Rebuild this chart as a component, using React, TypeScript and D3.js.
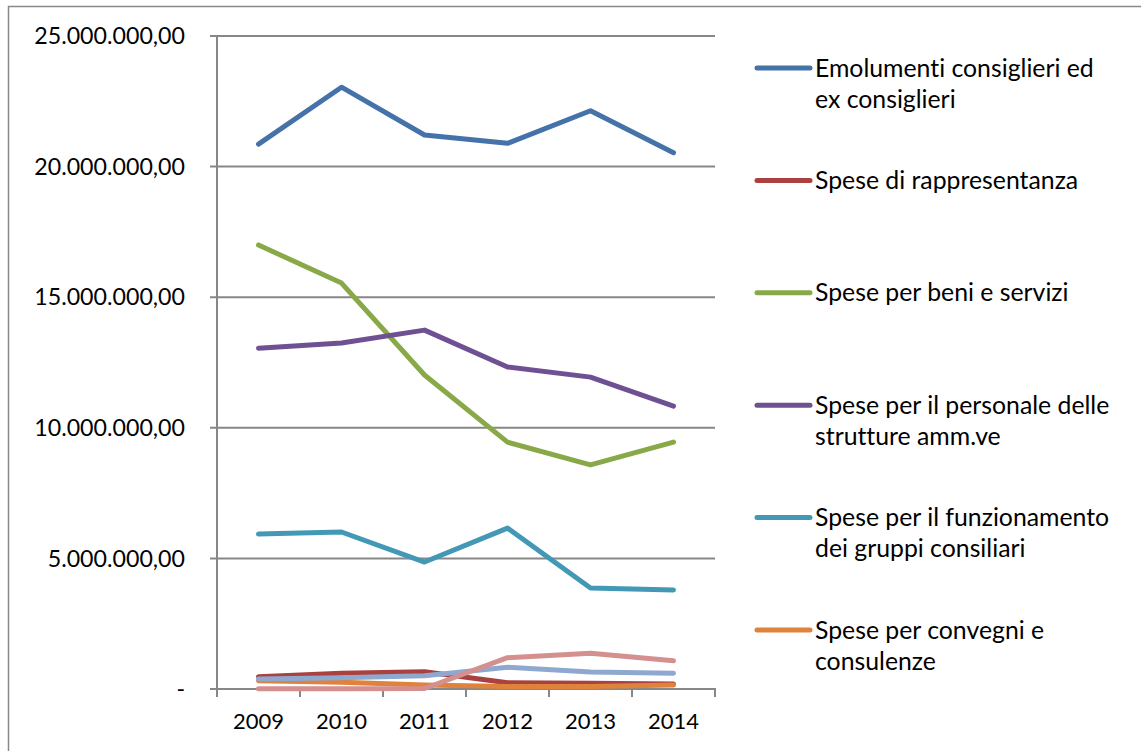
import React, { useEffect, useRef } from "react";
import * as d3 from "d3";

const years = ["2009", "2010", "2011", "2012", "2013", "2014"];

const emolumenti = [20.86, 23.04, 21.21, 20.89, 22.14, 20.53];
const rappresentanza = [0.47, 0.6, 0.66, 0.24, 0.22, 0.19];
const beniServizi = [17.0, 15.54, 12.02, 9.45, 8.58, 9.45];
const personale = [13.05, 13.25, 13.74, 12.33, 11.94, 10.83];
const gruppi = [5.93, 6.01, 4.86, 6.16, 3.87, 3.79];
const convegni = [0.32, 0.26, 0.15, 0.1, 0.1, 0.15];
const serie7 = [0.38, 0.43, 0.51, 0.83, 0.65, 0.6];
const serie8 = [0.01, 0.01, 0.02, 1.2, 1.37, 1.08];

const yTicks = [0, 5, 10, 15, 20, 25];
const yTickLabels = ["-", "5.000.000,00", "10.000.000,00", "15.000.000,00", "20.000.000,00", "25.000.000,00"];

const series = [
  { name: ["Emolumenti consiglieri ed", "ex consiglieri"], values: emolumenti, color: "#4572A9", legend: true },
  { name: ["Spese di rappresentanza"], values: rappresentanza, color: "#A9413E", legend: true },
  { name: ["Spese per beni e servizi"], values: beniServizi, color: "#89A948", legend: true },
  { name: ["Spese per il personale delle", "strutture amm.ve"], values: personale, color: "#6F5092", legend: true },
  { name: ["Spese per il funzionamento", "dei gruppi consiliari"], values: gruppi, color: "#4399B5", legend: true },
  { name: ["Spese per convegni e", "consulenze"], values: convegni, color: "#DF823B", legend: true },
  { name: ["Serie7"], values: serie7, color: "#8FA8CF", legend: false },
  { name: ["Serie8"], values: serie8, color: "#D3908F", legend: false },
];

const App = () => {
  const ref = useRef<SVGSVGElement>(null);

  useEffect(() => {
    const svg = d3.select(ref.current);
    svg.selectAll("*").remove();

    const left = 217, right = 715, top = 36, bottom = 689;
    const font = "Lato, 'Open Sans', sans-serif";

    const x = d3.scaleBand().domain(years).range([left, right]);
    const y = d3.scaleLinear().domain([0, 25]).range([bottom, top]);

    // outer border (only top/left visible)
    svg.append("rect")
      .attr("x", 8.5).attr("y", 6.5)
      .attr("width", 1300).attr("height", 900)
      .attr("fill", "white").attr("stroke", "#888").attr("stroke-width", 1.5);

    // gridlines
    svg.append("g")
      .selectAll("line")
      .data(yTicks.filter((t) => t > 0))
      .join("line")
      .attr("x1", left - 7).attr("x2", right)
      .attr("y1", (d) => y(d)).attr("y2", (d) => y(d))
      .attr("stroke", "#878787").attr("stroke-width", 2);

    // y axis
    svg.append("line")
      .attr("x1", left).attr("x2", left).attr("y1", top).attr("y2", bottom)
      .attr("stroke", "#878787").attr("stroke-width", 2);

    // x axis
    svg.append("line")
      .attr("x1", left - 7).attr("x2", right + 1).attr("y1", bottom).attr("y2", bottom)
      .attr("stroke", "#878787").attr("stroke-width", 2);

    const boundaries = years.map((d) => x(d)!).concat([right]);
    svg.append("g")
      .selectAll("line")
      .data(boundaries)
      .join("line")
      .attr("x1", (d) => d).attr("x2", (d) => d)
      .attr("y1", bottom).attr("y2", bottom + 8)
      .attr("stroke", "#878787").attr("stroke-width", 2);

    // y labels
    svg.append("g")
      .selectAll("text")
      .data(yTicks)
      .join("text")
      .attr("x", 185)
      .attr("y", (d) => y(d))
      .attr("dy", "0.35em")
      .attr("text-anchor", "end")
      .style("font-family", font)
      .style("font-size", "23.2px")
      .attr("fill", "#000")
      .text((d, i) => yTickLabels[i]);

    // x labels
    svg.append("g")
      .selectAll("text")
      .data(years)
      .join("text")
      .attr("x", (d) => x(d)! + x.bandwidth() / 2)
      .attr("y", 729)
      .attr("text-anchor", "middle")
      .style("font-family", font)
      .style("font-size", "22px")
      .attr("fill", "#000")
      .text((d) => d);

    // lines
    const line = d3
      .line<number>()
      .x((d, i) => x(years[i])! + x.bandwidth() / 2)
      .y((d) => y(d));

    series.forEach((s) => {
      svg.append("path")
        .attr("d", line(s.values))
        .attr("fill", "none")
        .attr("stroke", s.color)
        .attr("stroke-width", 5)
        .attr("stroke-linecap", "round")
        .attr("stroke-linejoin", "round");
    });

    // legend
    const legend = svg.append("g");
    series.filter((s) => s.legend).forEach((s, i) => {
      const ly = 68 + i * 112.4;
      legend.append("line")
        .attr("x1", 757).attr("x2", 810)
        .attr("y1", ly).attr("y2", ly)
        .attr("stroke", s.color).attr("stroke-width", 5)
        .attr("stroke-linecap", "round");
      const t = legend.append("text")
        .attr("x", 815).attr("y", ly + 8.5)
        .style("font-family", font)
        .style("font-size", "24.8px")
        .style("font-variant-ligatures", "none")
        .attr("fill", "#000");
      s.name.forEach((n, j) => {
        t.append("tspan").attr("x", 815).attr("dy", j === 0 ? 0 : 31).text(n);
      });
    });
  }, []);

  return (
    <svg
      ref={ref}
      width={1141}
      height={751}
      style={{ position: "absolute", left: 0, top: 0, background: "white" }}
    />
  );
};

export default App;
